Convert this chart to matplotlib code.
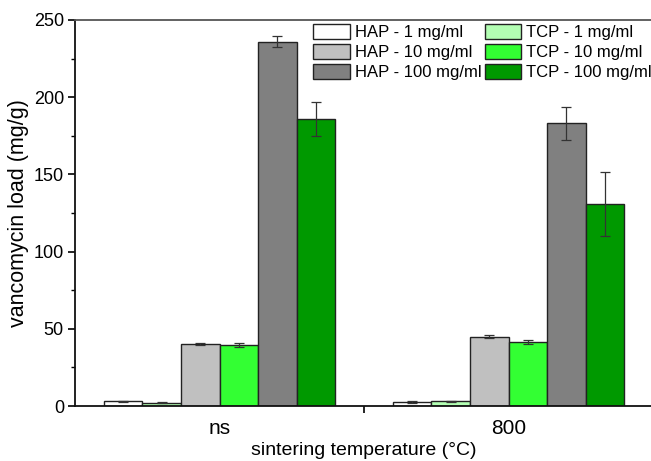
import matplotlib.pyplot as plt
import numpy as np

plt.rcParams['font.family'] = ['Liberation Sans', 'DejaVu Sans']

# groups on the x axis
groups = ['ns', '800']

# series, in drawing order
series = ['HAP - 1 mg/ml', 'TCP - 1 mg/ml', 'HAP - 10 mg/ml',
          'TCP - 10 mg/ml', 'HAP - 100 mg/ml', 'TCP - 100 mg/ml']
colors = ['#ffffff', '#b3ffb3', '#c0c0c0', '#33ff33', '#808080', '#009900']

# vancomycin load (mg/g) per series, [ns, 800]
loads = [
    [3.0, 2.6],
    [2.1, 3.0],
    [40.2, 45.0],
    [39.5, 41.5],
    [236.0, 183.0],
    [186.0, 131.0],
]
errors = [
    [0.3, 0.5],
    [0.2, 0.3],
    [0.8, 0.9],
    [1.3, 1.3],
    [3.7, 10.6],
    [11.0, 20.8],
]

fig = plt.figure(figsize=(6.51, 4.61), dpi=100)
ax = fig.add_axes([75 / 651, 1 - 406 / 461, 578 / 651, 386 / 461])

x = np.arange(len(groups))
w = 0.1335
handles = {}
for i, name in enumerate(series):
    pos = x + (i - 2.5) * w
    b = ax.bar(pos, loads[i], width=w, color=colors[i], edgecolor='#222222',
               linewidth=1.0, yerr=errors[i], capsize=3.3,
               error_kw=dict(ecolor='#333333', elinewidth=0.9, capthick=0.9),
               zorder=2)
    handles[name] = b

ax.set_xlim(-0.5, 1.5)
ax.set_ylim(0, 250)

ax.set_xticks(x)
ax.set_xticklabels(groups, fontsize=15)
ax.set_xticks([0.5], minor=True)
ax.tick_params(axis='x', which='major', length=0, pad=9)
ax.tick_params(axis='x', which='minor', length=5, width=1.2, direction='out')

ax.set_yticks([0, 50, 100, 150, 200, 250])
ax.set_yticks([25, 75, 125, 175, 225], minor=True)
ax.tick_params(axis='y', which='major', length=5, width=1.2, labelsize=13, pad=3)
ax.tick_params(axis='y', which='minor', length=3, width=1.0)

ax.set_xlabel('sintering temperature (°C)', fontsize=14, labelpad=3)
ax.set_ylabel('vancomycin load (mg/g)', fontsize=15.5, labelpad=3)

for side in ['left', 'bottom']:
    ax.spines[side].set_linewidth(1.3)
    ax.spines[side].set_color('#111111')
ax.spines['top'].set_linewidth(1.3)
ax.spines['top'].set_color('#555555')
ax.spines['right'].set_visible(False)

order = ['HAP - 1 mg/ml', 'HAP - 10 mg/ml', 'HAP - 100 mg/ml',
         'TCP - 1 mg/ml', 'TCP - 10 mg/ml', 'TCP - 100 mg/ml']
leg = ax.legend([handles[n] for n in order], order, ncol=2, frameon=False,
                fontsize=12, loc='upper left',
                bbox_to_anchor=(313 / 651, 1 - 24 / 461),
                bbox_transform=fig.transFigure, borderpad=0, borderaxespad=0,
                handlelength=2.2, handleheight=1.0, handletextpad=0.3,
                labelspacing=0.22, columnspacing=0.2)

fig.savefig('out.png', dpi=100)
